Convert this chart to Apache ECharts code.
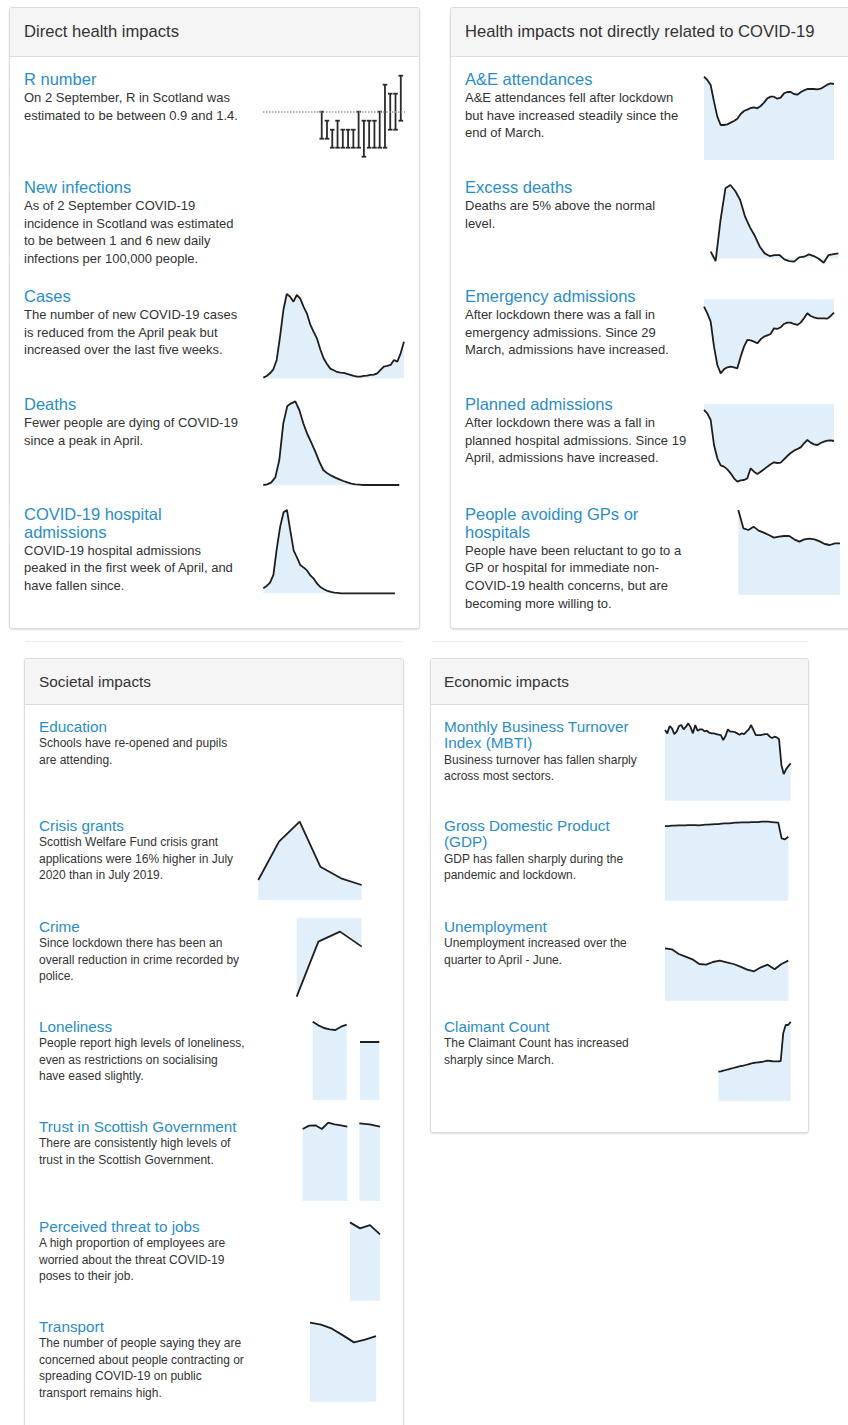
<!DOCTYPE html>
<html><head><meta charset="utf-8">
<script src="https://cdn.jsdelivr.net/npm/echarts@6/dist/echarts.min.js"></script>
<style>
body{margin:0;width:848px;height:1425px;overflow:hidden;background:#fff;font-family:"Liberation Sans",Arial,sans-serif;position:relative}
.panel{position:absolute;border:1px solid #dcdcdc;border-radius:3px;box-shadow:0 1px 2px rgba(0,0,0,.13);background:#fff;box-sizing:border-box;overflow:hidden}
.head{background:#f5f5f5;border-bottom:1px solid #dcdcdc;color:#333;box-sizing:border-box;white-space:nowrap}
.item{position:absolute;white-space:nowrap}
.t{color:#2a8dc8}
.b{color:#333}
.sep{position:absolute;height:1px;background:#ececec}
#chart{position:absolute;left:0;top:0;width:848px;height:1425px;z-index:5;pointer-events:none}
</style></head>
<body>
<div id="chart"></div>
<script>
// ---------------- DATA ----------------
const rLow  = [0.7,0.7,0.6,0.6,0.6,0.6,0.6,0.6,0.5,0.6,0.6,0.6,0.6,0.8,0.8,0.9];
const rHigh = [1.0,0.9,0.8,0.9,0.8,0.8,0.8,1.0,0.9,0.9,0.9,1.0,1.3,1.2,1.2,1.4];
const rThreshold = 1.0;
const casesValues = [2,7,15,27,55,125,205,253,245,230,250,240,215,195,162,140,120,87,60,43,29,24,19,17,16,13,10,7,5,5,7,8,10,11,15,25,35,37,40,55,50,75,110];
const deathsValues = [0,2,8,23,75,185,237,245,251,225,185,153,127,100,70,45,35,28,22,17,12,8,4,2,1,0,0,0,0,0,0,0,0,0,0];
const hospitalValues = [15,22,32,55,135,200,243,250,188,128,107,84,77,68,53,43,28,18,12,7,4,2,1,0,0,0,0,0,0,0,0,0,0,0,0,0,0,0,0,0];
const aeValues = [25.0,24.0,22.5,17.5,13.0,10.5,10.5,10.7,11.2,11.7,12.4,13.8,14.7,15.1,15.6,15.8,15.5,16.2,17.2,18.5,19.0,19.0,18.4,18.7,20.0,20.4,20.4,19.8,19.6,20.3,20.9,21.3,21.3,21.3,21.2,21.4,22.0,22.6,23.0,22.8];
const excessValues = [20,-8,115,210,220,202,175,125,93,67,35,15,7,10,10,-3,-8,-10,3,5,12,7,-1,-13,10,13,15];
const emergencyValues = [-22,-42,-67,-142,-197,-222,-210,-204,-202,-204,-207,-172,-142,-122,-123,-127,-132,-120,-112,-108,-104,-87,-89,-84,-74,-70,-70,-74,-77,-70,-57,-42,-50,-54,-57,-57,-57,-58,-50,-40];
const plannedValues = [-18,-28,-48,-123,-163,-184,-188,-196,-208,-223,-233,-229,-228,-223,-193,-203,-210,-203,-196,-188,-181,-175,-177,-176,-166,-156,-147,-140,-135,-130,-118,-108,-116,-121,-123,-117,-113,-110,-109,-111];
const gpValues = [255,200,195,205,193,187,180,172,175,177,177,167,160,167,169,167,161,153,150,155,155];
const crisisValues = [60,175,235,100,65,45];
const crimeValues = [-235,-70,-40,-85];
const lonelinessA = [235,224,216,212,210,220,226];
const lonelinessB = [174,174];
const trustA = [216,226,227,216,235,230,227,223];
const trustB = [233,230,223];
const jobsValues = [235,217,227,199];
const transportValues = [237,231,219,199,178,186,197];
const mbtiValues = [212,202,224,217,200,207,224,227,214,222,232,220,202,227,210,214,214,208,210,204,202,202,200,198,197,182,194,214,207,207,206,202,198,202,200,207,214,227,212,197,197,197,198,200,200,192,188,192,190,184,107,80,94,104,112];
const gdpValues = [224,224,225,225,226,226,226,227,227,227,226,227,228,228,229,230,230,231,232,232,233,234,234,235,235,235,236,236,236,237,237,237,236,235,234,187,184,192];
const unemploymentValues = [158,155,141,133,125,111,109,117,121,116,111,103,94,89,101,109,95,111,121];
const claimantValues = [88,89,91,93,95,97,99,101,103,105,106,108,110,112,114,115,116,117,118,120,121,120,119,119,119,120,203,228,228,238];

// ---------------- TEXT ----------------
const panelTitles = ['Direct health impacts','Health impacts not directly related to COVID-19','Societal impacts','Economic impacts'];
const itemTexts = [
 {p:0, title:['R number'], body:['On 2 September, R in Scotland was','estimated to be between 0.9 and 1.4.']},
 {p:0, title:['New infections'], body:['As of 2 September COVID-19','incidence in Scotland was estimated','to be between 1 and 6 new daily','infections per 100,000 people.']},
 {p:0, title:['Cases'], body:['The number of new COVID-19 cases','is reduced from the April peak but','increased over the last five weeks.']},
 {p:0, title:['Deaths'], body:['Fewer people are dying of COVID-19','since a peak in April.']},
 {p:0, title:['COVID-19 hospital','admissions'], body:['COVID-19 hospital admissions','peaked in the first week of April, and','have fallen since.']},
 {p:1, title:['A&E attendances'], body:['A&E attendances fell after lockdown','but have increased steadily since the','end of March.']},
 {p:1, title:['Excess deaths'], body:['Deaths are 5% above the normal','level.']},
 {p:1, title:['Emergency admissions'], body:['After lockdown there was a fall in','emergency admissions. Since 29','March, admissions have increased.']},
 {p:1, title:['Planned admissions'], body:['After lockdown there was a fall in','planned hospital admissions. Since 19','April, admissions have increased.']},
 {p:1, title:['People avoiding GPs or','hospitals'], body:['People have been reluctant to go to a','GP or hospital for immediate non-','COVID-19 health concerns, but are','becoming more willing to.']},
 {p:2, title:['Education'], body:['Schools have re-opened and pupils','are attending.']},
 {p:2, title:['Crisis grants'], body:['Scottish Welfare Fund crisis grant','applications were 16% higher in July','2020 than in July 2019.']},
 {p:2, title:['Crime'], body:['Since lockdown there has been an','overall reduction in crime recorded by','police.']},
 {p:2, title:['Loneliness'], body:['People report high levels of loneliness,','even as restrictions on socialising','have eased slightly.']},
 {p:2, title:['Trust in Scottish Government'], body:['There are consistently high levels of','trust in the Scottish Government.']},
 {p:2, title:['Perceived threat to jobs'], body:['A high proportion of employees are','worried about the threat COVID-19','poses to their job.']},
 {p:2, title:['Transport'], body:['The number of people saying they are','concerned about people contracting or','spreading COVID-19 on public','transport remains high.']},
 {p:3, title:['Monthly Business Turnover','Index (MBTI)'], body:['Business turnover has fallen sharply','across most sectors.']},
 {p:3, title:['Gross Domestic Product','(GDP)'], body:['GDP has fallen sharply during the','pandemic and lockdown.']},
 {p:3, title:['Unemployment'], body:['Unemployment increased over the','quarter to April - June.']},
 {p:3, title:['Claimant Count'], body:['The Claimant Count has increased','sharply since March.']}
];

// ---------------- LAYOUT ----------------
const panelBoxes = [
 {left:9, top:7, width:411, height:622, head:49, pad:14, fs:16.6},
 {left:450, top:7, width:420, height:622, head:49, pad:14, fs:16.6},
 {left:24, top:658, width:380, height:800, head:46, pad:14, fs:15.4},
 {left:430, top:658, width:379, height:475, head:46, pad:13, fs:15.4}
];
const textStyle = [
 {tfs:16.5, bfs:13, lh:17.7}, {tfs:16.5, bfs:13, lh:17.7},
 {tfs:15.3, bfs:12, lh:16.6}, {tfs:15.3, bfs:12, lh:16.6}
];
const itemX = [24, 465, 39, 444];
const itemY = [80,188,297,405,515, 80,188,297,405,515, 727,826,927,1027,1127,1227,1327, 727,826,927,1027];

panelBoxes.forEach((b,i)=>{
  const d=document.createElement('div'); d.className='panel';
  Object.assign(d.style,{left:b.left+'px',top:b.top+'px',width:b.width+'px',height:b.height+'px'});
  const h=document.createElement('div'); h.className='head';
  Object.assign(h.style,{height:b.head+'px',lineHeight:(b.head-1)+'px',paddingLeft:b.pad+'px',fontSize:b.fs+'px'});
  h.textContent=panelTitles[i]; d.appendChild(h); document.body.appendChild(d);
});
[[25,641,377],[432,641,376]].forEach(s=>{
  const d=document.createElement('div'); d.className='sep';
  Object.assign(d.style,{left:s[0]+'px',top:s[1]+'px',width:s[2]+'px'}); document.body.appendChild(d);
});
itemTexts.forEach((it,i)=>{
  const st=textStyle[it.p];
  const d=document.createElement('div'); d.className='item';
  d.style.left=itemX[it.p]+'px'; d.style.top=(itemY[i]-st.lh/2)+'px'; d.style.zIndex=3;
  let html='';
  it.title.forEach(t=>{html+='<div class="t" style="font-size:'+st.tfs+'px;line-height:'+st.lh+'px">'+t.replace('&','&amp;')+'</div>';});
  it.body.forEach(t=>{html+='<div class="b" style="font-size:'+st.bfs+'px;line-height:'+st.lh+'px">'+t.replace('&','&amp;')+'</div>';});
  d.innerHTML=html; document.body.appendChild(d);
});

// ---------------- CHARTS ----------------
const sparks = [
 {data:casesValues, box:[263.3,280,140.7,98.3], y:[0,295]},
 {data:deathsValues, box:[263.3,385,136,100], y:[0,300]},
 {data:hospitalValues, box:[263.3,493.3,131.7,100], y:[0,300]},
 {data:aeValues, box:[704,60,130,100], y:[0,30]},
 {data:excessValues, box:[710.7,180,127.7,86.7], y:[-25,235]},
 {data:emergencyValues, box:[704,299.3,130,100], y:[-300,0]},
 {data:plannedValues, box:[704,404,130,100], y:[-300,0]},
 {data:gpValues, box:[738.3,495,101.7,100], y:[0,300]},
 {data:crisisValues, box:[258.3,800,103.4,100], y:[0,300]},
 {data:crimeValues, box:[296.7,918.3,65,100], y:[-300,0]},
 {data:lonelinessA, box:[312.7,1000,34,100], y:[0,300]},
 {data:lonelinessB, box:[360,1000,19.3,100], y:[0,300]},
 {data:trustA, box:[302.7,1101,44.6,100], y:[0,300]},
 {data:trustB, box:[359.3,1101,20.7,100], y:[0,300]},
 {data:jobsValues, box:[350,1200.7,30,100], y:[0,300]},
 {data:transportValues, box:[310,1301.7,66,100], y:[0,300]},
 {data:mbtiValues, box:[665,700.7,125.7,100], y:[0,300]},
 {data:gdpValues, box:[665,800.7,123.3,100], y:[0,300]},
 {data:unemploymentValues, box:[665,901,123.3,100], y:[0,300]},
 {data:claimantValues, box:[718.3,1001,72.4,100], y:[0,300]}
];
const lineColor='#1e1e1e', fillColor='#e0eff9';

const grid=[{left:263,top:66.7,width:142,height:90,containLabel:false}];
const xAxis=[{type:'value',show:false,gridIndex:0,min:-11.14,max:15.8}];
const yAxis=[{type:'value',show:false,gridIndex:0,min:0.5,max:1.5}];
const series=[{
  type:'custom', xAxisIndex:0, yAxisIndex:0, silent:true,
  data:rLow.map((l,i)=>[i,l,rHigh[i]]),
  encode:{x:0,y:[1,2]},
  renderItem:(params,api)=>{
    const lo=api.coord([api.value(0),api.value(1)]);
    const hi=api.coord([api.value(0),api.value(2)]);
    const w=2.3, st={stroke:'#2a2a2a',lineWidth:1.8};
    return {type:'group',children:[
      {type:'line',shape:{x1:hi[0],y1:hi[1],x2:lo[0],y2:lo[1]},style:st},
      {type:'line',shape:{x1:hi[0]-w,y1:hi[1],x2:hi[0]+w,y2:hi[1]},style:st},
      {type:'line',shape:{x1:lo[0]-w,y1:lo[1],x2:lo[0]+w,y2:lo[1]},style:st}
    ]};
  },
  markLine:{silent:true,symbol:'none',label:{show:false},
    lineStyle:{type:'dotted',color:'#9a9a9a',width:1.5},
    data:[{yAxis:rThreshold}]}
}];
sparks.forEach((s,k)=>{
  const i=k+1;
  grid.push({left:s.box[0],top:s.box[1],width:s.box[2],height:s.box[3],containLabel:false});
  xAxis.push({type:'category',show:false,gridIndex:i,boundaryGap:false,data:s.data.map((_,j)=>j)});
  yAxis.push({type:'value',show:false,gridIndex:i,min:s.y[0],max:s.y[1]});
  series.push({type:'line',xAxisIndex:i,yAxisIndex:i,data:s.data,symbol:'none',silent:true,clip:false,
    lineStyle:{color:lineColor,width:1.8},areaStyle:{color:fillColor,opacity:1,origin:'auto'}});
});

const chart=echarts.init(document.getElementById('chart'),null,{renderer:'canvas'});
chart.setOption({backgroundColor:'transparent',animation:false,grid,xAxis,yAxis,series});
</script>
</body></html>
